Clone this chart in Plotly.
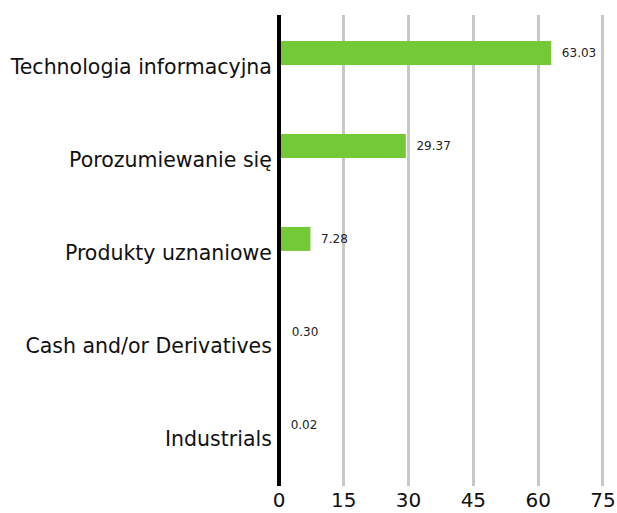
import plotly.graph_objects as go

categories = ["Technologia informacyjna", "Porozumiewanie się", "Produkty uznaniowe",
              "Cash and/or Derivatives", "Industrials"]
values = [63.03, 29.37, 7.28, 0.30, 0.02]
tick_vals = [0, 15, 30, 45, 60, 75]

FONT = "DejaVu Sans, Noto Sans, sans-serif"

fig = go.Figure()
fig.add_trace(go.Bar(
    y=categories, x=values, orientation="h",
    marker=dict(color="#74c936", line=dict(width=0)),
    width=0.258, offset=-0.28,
    text=[f"{v:.2f}" for v in values],
    texttemplate="  %{text}",
    textposition="outside",
    textfont=dict(family=FONT, size=12, color="#222222"),
    cliponaxis=False,
    hoverinfo="skip",
))

fig.update_layout(
    width=617, height=513,
    margin=dict(l=279, r=13, t=15, b=27, autoexpand=False),
    plot_bgcolor="white", paper_bgcolor="white",
    showlegend=False,
    font=dict(family=FONT, size=20.5, color="#111111"),
    xaxis=dict(range=[0, 75.25], tickvals=tick_vals, showgrid=True,
               gridcolor="#c8c8c8", gridwidth=2.5, zeroline=False,
               showline=False, ticks="", automargin=False,
               tickfont=dict(size=20)),
    yaxis=dict(range=[4.506, -0.559], showgrid=False, zeroline=False,
               showline=False, ticks="outside", ticklen=2, automargin=False,
               tickcolor="rgba(0,0,0,0)", tickfont=dict(size=20.5)),
)
fig.add_shape(type="line", xref="paper", yref="paper", x0=0, x1=0, y0=0, y1=1,
              line=dict(color="black", width=4))

fig.write_html(
    "out.html",
    config={"displayModeBar": False},
    post_script="document.body.style.margin='0';document.body.style.overflow='hidden';",
)
